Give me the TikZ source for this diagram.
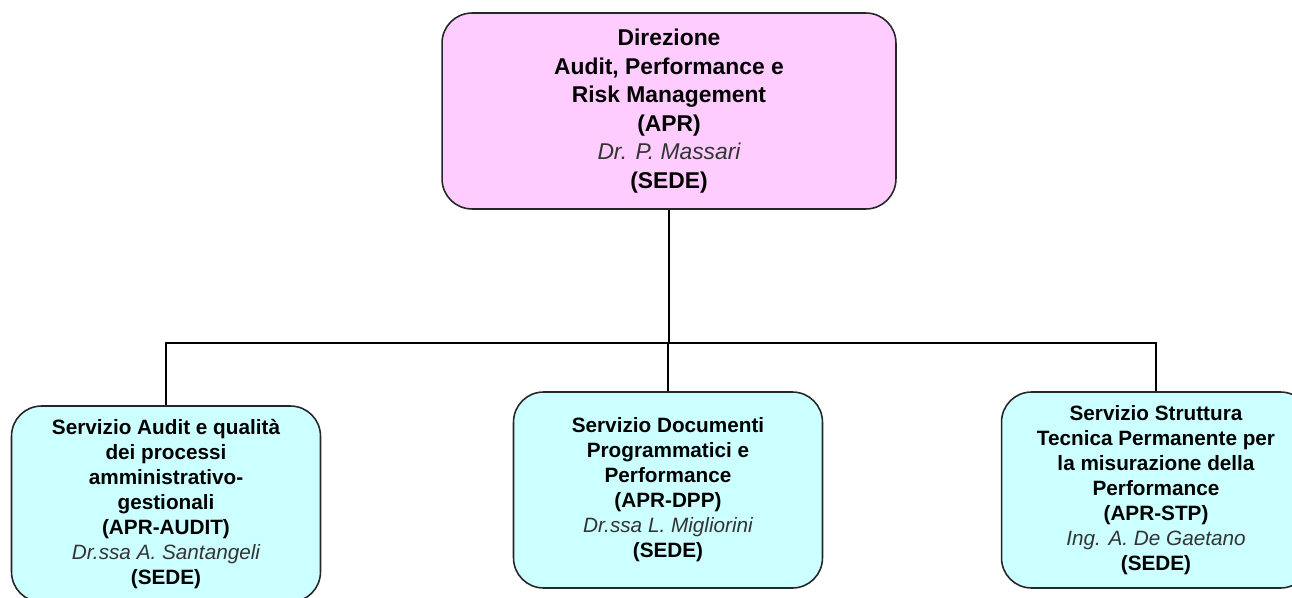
\documentclass[tikz,border=0pt]{standalone}
\usepackage{fontspec}
\setmainfont{Liberation Sans}
\definecolor{dirpink}{HTML}{FFCCFF}
\definecolor{servcyan}{HTML}{CCFFFF}
\tikzset{
  unit/.style={draw=black!85, line width=0.9pt, rounded corners=0.6cm, align=center, inner sep=2pt},
  dirbox/.style={unit, fill=dirpink, minimum width=9.08cm, minimum height=3.92cm,
    font=\fontsize{13}{16.2}\selectfont\bfseries},
  servbox/.style={unit, fill=servcyan, minimum width=6.18cm, minimum height=3.92cm,
    font=\fontsize{11.8}{14.2}\selectfont\bfseries},
  link/.style={draw=black, line width=0.9pt}
}
\newcommand{\resp}[1]{{\mdseries\itshape\color{black!80}#1}}

\begin{document}
\begin{tikzpicture}[x=0.02cm, y=-0.02cm]
  \useasboundingbox (0,0) rectangle (1292,598);
  \clip (0,0) rectangle (1292,598);
  % direzione
  \node[dirbox] (apr) at (669,111) {Direzione\\Audit, Performance e\\Risk Management\\(APR)\\\resp{Dr. P. Massari}\\(SEDE)};
  % servizi
  \node[servbox] (audit) at (166,504) {Servizio Audit e qualità\\dei processi\\amministrativo-\\gestionali\\(APR-AUDIT)\\\resp{Dr.ssa A. Santangeli}\\(SEDE)};
  \node[servbox] (dpp) at (668,490) {Servizio Documenti\\Programmatici e\\Performance\\(APR-DPP)\\\resp{Dr.ssa L. Migliorini}\\(SEDE)};
  \node[servbox] (stp) at (1156,490) {Servizio Struttura\\Tecnica Permanente per\\la misurazione della\\Performance\\(APR-STP)\\\resp{Ing. A. De Gaetano}\\(SEDE)};
  % collegamenti
  \coordinate (bus) at (669,343);
  \draw[link] (apr.south) -- (bus);
  \draw[link] (bus) -| (audit.north);
  \draw[link] (bus) -| (dpp.north);
  \draw[link] (bus) -| (stp.north);
\end{tikzpicture}
\end{document}
